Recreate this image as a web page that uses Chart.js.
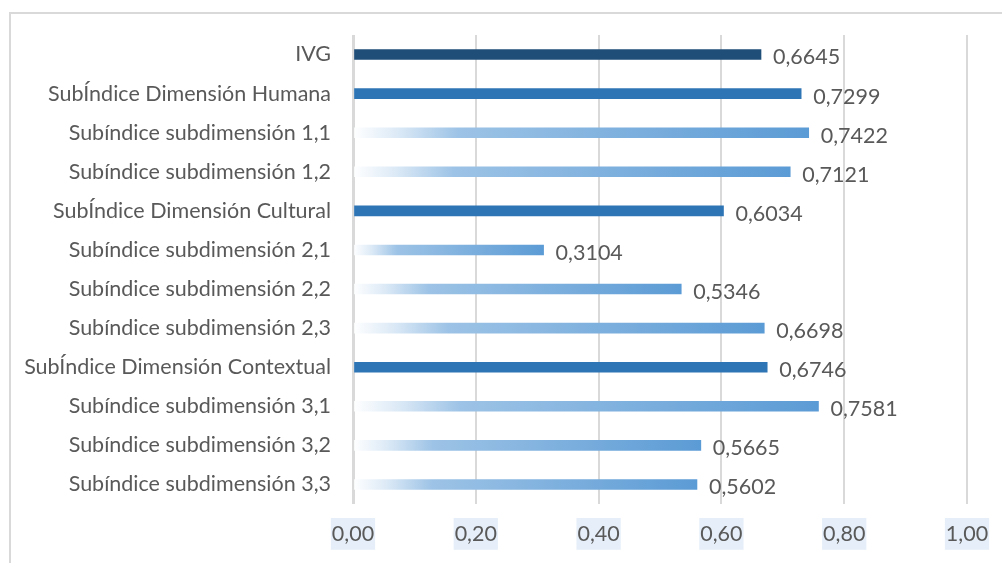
<!DOCTYPE html>
<html>

<head>
    <title>IVG por subíndice</title>
    <script src="https://cdn.jsdelivr.net/npm/chart.js"></script>
    <style>
        body { margin: 0; background: #fff; }
        #marco { position: absolute; left: 9px; top: 12px; width: 1100px; height: 700px;
                 border-left: 2px solid #d9d9d9; border-top: 2px solid #d9d9d9; }
        #chart { position: absolute; left: 0; top: 0; }
    </style>
</head>

<body>
    <div id="marco"></div>
    <canvas id="chart" width="1002" height="563"></canvas>
    <script>
        // datos
        var etiquetas = [
            'IVG',
            'SubÍndice Dimensión Humana',
            'Subíndice subdimensión 1,1',
            'Subíndice subdimensión 1,2',
            'SubÍndice Dimensión Cultural',
            'Subíndice subdimensión 2,1',
            'Subíndice subdimensión 2,2',
            'Subíndice subdimensión 2,3',
            'SubÍndice Dimensión Contextual',
            'Subíndice subdimensión 3,1',
            'Subíndice subdimensión 3,2',
            'Subíndice subdimensión 3,3'
        ];
        var valores = [0.6645, 0.7299, 0.7422, 0.7121, 0.6034, 0.3104, 0.5346, 0.6698, 0.6746, 0.7581, 0.5665, 0.5602];
        // 0 = indice global, 1 = dimension, 2 = subdimension
        var niveles = [0, 1, 2, 2, 1, 2, 2, 2, 1, 2, 2, 2];
        var ticksX = [0, 0.2, 0.4, 0.6, 0.8, 1.0];

        var fuente = 'Lato, "Open Sans", sans-serif';
        var gris = '#595959';

        function coma(v, d) {
            return v.toFixed(d).replace('.', ',');
        }

        var ctx = document.getElementById('chart').getContext('2d');

        // fondo azul de las etiquetas del eje x
        var fondoTick = ctx.createLinearGradient(0, 520, 0, 547);
        fondoTick.addColorStop(0, '#e6eff9');
        fondoTick.addColorStop(1, '#9fc2ea');

        function colorBarra(context) {
            var i = context.dataIndex;
            var nivel = niveles[i];
            if (nivel === 0) return '#1f4e79';
            if (nivel === 1) return '#2e75b6';
            var chart = context.chart;
            var area = chart.chartArea;
            if (!area) return '#5b9bd5';
            var x = chart.scales.x;
            var x0 = x.getPixelForValue(0);
            var x1 = x.getPixelForValue(valores[i]);
            var g = chart.ctx.createLinearGradient(x0, 0, x1, 0);
            g.addColorStop(0, 'rgba(255,255,255,1)');
            g.addColorStop(0.1, '#dbe9f6');
            g.addColorStop(0.23, '#9dc3e6');
            g.addColorStop(1, '#5b9bd5');
            return g;
        }

        var etiquetasDatos = {
            id: 'etiquetasDatos',
            afterDatasetsDraw: function (chart) {
                var c = chart.ctx;
                var meta = chart.getDatasetMeta(0);
                c.save();
                c.font = '21.5px ' + fuente;
                c.fillStyle = gris;
                c.textAlign = 'left';
                c.textBaseline = 'middle';
                meta.data.forEach(function (bar, i) {
                    c.fillText(coma(valores[i], 4), bar.x + 12, bar.y + 3);
                });
                c.restore();
            }
        };

        var chart = new Chart(ctx, {
            type: 'bar',
            data: {
                labels: etiquetas,
                datasets: [{
                    data: valores,
                    backgroundColor: colorBarra,
                    barThickness: 10,
                    borderWidth: 0
                }]
            },
            options: {
                indexAxis: 'y',
                responsive: false,
                animation: false,
                layout: { padding: { left: 0, top: 35, right: 35, bottom: 0 } },
                plugins: {
                    legend: { display: false },
                    tooltip: { enabled: false }
                },
                scales: {
                    x: {
                        min: 0,
                        max: 1,
                        afterBuildTicks: function (scale) {
                            scale.ticks = ticksX.map(function (v) { return { value: v }; });
                        },
                        afterFit: function (scale) {
                            scale.height = 59;
                            scale.paddingLeft = 0;
                            scale.paddingRight = 0;
                        },
                        grid: {
                            color: '#d9d9d9',
                            lineWidth: function (c) { return c.index === 0 ? 3 : 2; },
                            drawTicks: false
                        },
                        border: { display: false },
                        ticks: {
                            padding: 17,
                            color: gris,
                            font: { family: fuente, size: 21.5 },
                            callback: function (v) { return coma(v, 2); },
                            showLabelBackdrop: true,
                            backdropColor: fondoTick,
                            backdropPadding: { x: 1, y: 3 }
                        }
                    },
                    y: {
                        afterFit: function (scale) { scale.width = 353; },
                        grid: { display: false, drawTicks: false },
                        border: { display: false },
                        ticks: {
                            padding: 22,
                            color: gris,
                            font: { family: fuente, size: 21.5 }
                        }
                    }
                }
            },
            plugins: [etiquetasDatos]
        });
    </script>
</body>

</html>
